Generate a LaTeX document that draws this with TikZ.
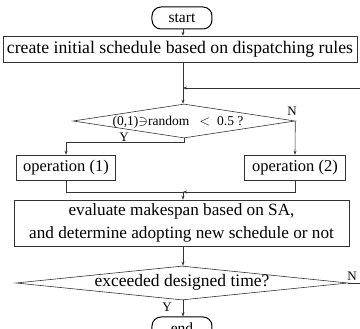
\documentclass[tikz,border=0pt]{standalone}
\usepackage{fontspec}
\setmainfont{Liberation Serif}
\usetikzlibrary{shapes.geometric,arrows.meta}
\begin{document}
\begin{tikzpicture}[x=1pt,y=-1pt,
  line/.style={draw=black!80, line width=0.6pt},
  arr/.style={line, -{Stealth[length=4pt,width=3pt]}},
  term/.style={draw=black, line width=1pt, rounded corners=9pt, minimum width=60pt, minimum height=22pt, inner sep=0pt, font=\fontsize{15.5}{17}\selectfont},
  proc/.style={draw=black!80, line width=0.6pt, inner sep=0pt, font=\fontsize{17.2}{22.5}\selectfont},
  dec/.style={diamond, draw=black!80, line width=0.6pt, inner sep=0pt},
  dectext/.style={inner sep=0pt},
  yn/.style={inner sep=0pt, font=\fontsize{13}{15}\selectfont}]
\useasboundingbox (0,0) rectangle (360,329);
\clip (0,0) rectangle (360,329);
\node[term] (start) at (182,18) {start};
\node[proc, minimum width=354pt, minimum height=26pt, font=\fontsize{17.7}{22}\selectfont] (init) at (180,49) {create initial schedule based on dispatching rules};
\node[dec, minimum width=222pt, minimum height=34pt] (d1) at (184,121) {};
\node[dectext, font=\fontsize{13.5}{15}\selectfont] (d1t) at (178,122) {(0,1)$\ni$random \ \ $<$ \ 0.5 ?};
\node[proc, minimum width=99pt, minimum height=25pt, font=\fontsize{16.5}{20}\selectfont] (op1) at (66,167.5) {operation (1)};
\node[proc, minimum width=101pt, minimum height=25pt, font=\fontsize{16.5}{20}\selectfont] (op2) at (295,167.5) {operation (2)};
\node[proc, minimum width=335pt, minimum height=46pt, align=center] (eval) at (181.5,223) {evaluate makespan based on SA,\\and determine adopting new schedule or not};
\node[dec, minimum width=332pt, minimum height=34pt] (d2) at (182,283) {};
\node[dectext, font=\fontsize{17.5}{20}\selectfont] (d2t) at (182,282) {exceeded designed time?};
\node[term] (end) at (182,328) {end};
\node[yn] (n1) at (292,111) {N};
\node[yn] (y1) at (124,137) {Y};
\node[yn] (n2) at (352,276) {N};
\node[yn] (y2) at (167,307) {Y};
\coordinate (loopin) at (183,88);
\coordinate (merge) at (183,192);
\draw[arr] (start.south -| loopin) -- (loopin |- init.north);
\draw[line] (loopin |- init.south) -- (loopin);
\draw[arr] (loopin) -- (loopin |- d1.north);
\draw[arr] (d2.east) -- ++(20,0) |- (loopin);
\draw[arr] (d1.south) -- ++(0,4) -| (op1.north);
\draw[arr] (d1.east) -- (op2.north);
\draw[line] (op1.south) |- (merge);
\draw[arr] (op2.south) |- (merge);
\draw[arr] (merge) -- (merge |- eval.north);
\draw[arr] (loopin |- eval.south) -- (loopin |- d2.north);
\draw[arr] (loopin |- d2.south) -- (loopin |- end.north);
\end{tikzpicture}
\end{document}
